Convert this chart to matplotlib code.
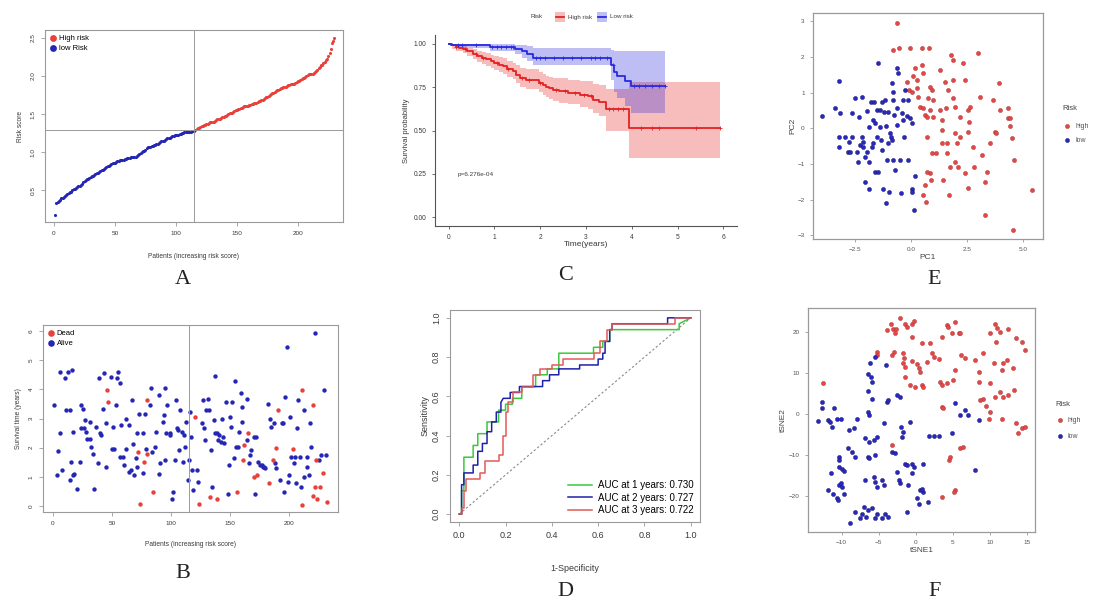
import numpy as np
import matplotlib
matplotlib.use("Agg")
import matplotlib.pyplot as plt
from matplotlib.patches import Rectangle

plt.rcParams['font.family'] = ['Liberation Sans', 'DejaVu Sans']

W, H = 1093, 610

# ---------------- data ----------------
# A: risk score by patient rank
risk_low = [0.17, 0.33, 0.34, 0.36, 0.37, 0.39, 0.40, 0.41, 0.42, 0.44,
            0.45, 0.46, 0.47, 0.48, 0.50, 0.51, 0.52, 0.53, 0.54, 0.55,
            0.56, 0.57, 0.58, 0.60, 0.62, 0.63, 0.64, 0.65, 0.66, 0.67,
            0.68, 0.69, 0.70, 0.71, 0.72, 0.73, 0.74, 0.75, 0.76, 0.77,
            0.78, 0.79, 0.80, 0.81, 0.82, 0.83, 0.84, 0.85, 0.85, 0.86,
            0.87, 0.88, 0.88, 0.89, 0.89, 0.90, 0.90, 0.91, 0.91, 0.92,
            0.92, 0.92, 0.93, 0.93, 0.93, 0.94, 0.94, 0.95, 0.96, 0.98,
            0.99, 1.00, 1.01, 1.02, 1.03, 1.05, 1.06, 1.07, 1.07, 1.08,
            1.08, 1.09, 1.09, 1.10, 1.11, 1.12, 1.13, 1.14, 1.15, 1.15,
            1.16, 1.17, 1.18, 1.18, 1.19, 1.20, 1.21, 1.21, 1.22, 1.22,
            1.23, 1.23, 1.24, 1.24, 1.25, 1.25, 1.26, 1.26, 1.26, 1.27,
            1.27, 1.27, 1.28, 1.28, 1.28]
risk_high = [1.29, 1.30, 1.31, 1.32, 1.33, 1.34, 1.34, 1.35, 1.36, 1.37,
             1.37, 1.38, 1.39, 1.39, 1.40, 1.40, 1.41, 1.42, 1.43, 1.44,
             1.44, 1.45, 1.46, 1.46, 1.47, 1.48, 1.49, 1.50, 1.51, 1.52,
             1.52, 1.53, 1.54, 1.55, 1.55, 1.56, 1.57, 1.58, 1.58, 1.59,
             1.60, 1.60, 1.61, 1.61, 1.62, 1.62, 1.63, 1.63, 1.64, 1.64,
             1.65, 1.66, 1.67, 1.67, 1.68, 1.69, 1.70, 1.71, 1.72, 1.73,
             1.74, 1.75, 1.76, 1.77, 1.78, 1.79, 1.80, 1.81, 1.82, 1.83,
             1.84, 1.84, 1.85, 1.86, 1.86, 1.87, 1.88, 1.88, 1.89, 1.89,
             1.90, 1.90, 1.91, 1.92, 1.93, 1.94, 1.95, 1.96, 1.97, 1.98,
             1.99, 2.00, 2.01, 2.02, 2.02, 2.03, 2.03, 2.04, 2.05, 2.06,
             2.08, 2.10, 2.12, 2.14, 2.15, 2.17, 2.19, 2.21, 2.23, 2.26,
             2.30, 2.36, 2.43, 2.46, 2.50]
risk_cut = 1.285
rank_cut = 115

# B: survival time by patient rank, status 1 = dead
b_rank = [1, 6, 6, 4, 3, 8, 10, 11, 13, 14, 14, 15, 16, 17, 17, 18, 20, 23, 24, 24,
          25, 27, 26, 28, 29, 31, 31, 32, 34, 35, 36, 38, 39, 40, 41, 42, 43, 45, 45, 46,
          47, 49, 50, 51, 52, 53, 54, 55, 57, 57, 59, 58, 60, 62, 62, 64, 64, 66, 67, 68,
          69, 70, 71, 71, 72, 73, 74, 76, 76, 77, 78, 79, 80, 80, 82, 83, 84, 85, 86, 87,
          90, 90, 91, 93, 94, 95, 95, 96, 97, 99, 99, 101, 102, 103, 104, 105, 106, 107, 108, 109,
          110, 111, 112, 113, 114, 115, 117, 118, 119, 116, 120, 122, 123, 124, 126, 127, 128, 129, 130, 131,
          132, 133, 134, 135, 136, 137, 137, 139, 139, 140, 141, 142, 143, 144, 145, 147, 148, 149, 150, 151,
          152, 153, 154, 155, 156, 157, 158, 159, 160, 160, 161, 162, 164, 164, 165, 166, 167, 168, 170, 170,
          171, 173, 172, 174, 175, 177, 178, 179, 180, 182, 183, 184, 185, 186, 187, 188, 189, 189, 191, 192,
          194, 195, 196, 197, 198, 199, 200, 201, 202, 203, 204, 205, 206, 207, 208, 209, 210, 211, 211, 213,
          213, 215, 215, 217, 218, 219, 220, 220, 222, 222, 223, 224, 225, 226, 227, 229, 230, 231, 232]
b_time = [3.45, 4.60, 2.50, 1.90, 1.06, 1.23, 4.37, 3.30, 4.60, 0.89, 3.28, 1.52, 4.65, 2.54, 1.06, 1.10, 0.60, 1.52, 2.66, 3.45,
          3.34, 2.94, 2.66, 2.54, 2.31, 2.88, 2.31, 2.03, 1.80, 0.60, 2.71, 1.46, 4.37, 2.49, 2.43, 3.34, 4.55, 2.83, 1.35, 3.97,
          3.55, 4.42, 1.97, 2.71, 1.97, 3.45, 4.37, 4.60, 4.20, 1.69, 1.69, 2.77, 1.40, 1.97, 2.98, 2.77, 1.17, 1.23, 3.63, 2.14,
          1.06, 1.66, 2.49, 1.35, 1.86, 3.17, 0.09, 1.12, 2.49, 1.52, 3.17, 1.97, 3.63, 1.80, 3.45, 4.03, 1.86, 0.49, 2.03, 2.54,
          1.10, 3.80, 1.46, 2.88, 3.11, 4.03, 1.57, 2.49, 3.45, 2.49, 2.43, 0.23, 0.49, 1.57, 3.63, 2.66, 2.60, 1.92, 3.30, 2.54,
          1.52, 2.43, 2.03, 2.88, 0.89, 1.57, 2.37, 1.23, 0.55, 3.23, 3.06, 1.23, 0.83, 0.09, 2.83, 3.63, 2.66, 2.26, 3.28, 3.68,
          3.28, 0.32, 1.92, 0.66, 2.94, 4.45, 2.49, 2.49, 0.24, 2.26, 2.43, 2.20, 3.00, 2.37, 2.17, 3.57, 0.43, 1.40, 3.06, 2.71,
          3.57, 1.66, 4.29, 2.03, 0.49, 2.03, 2.54, 3.86, 3.40, 2.88, 1.57, 2.09, 3.68, 2.26, 2.49, 1.48, 1.74, 1.92, 2.37, 1.00,
          0.43, 1.06, 2.37, 1.52, 1.42, 1.40, 1.35, 1.35, 1.29, 3.51, 0.78, 3.00, 2.71, 1.57, 2.83, 1.46, 2.00, 1.29, 3.30, 0.89,
          2.83, 2.86, 0.49, 3.72, 5.45, 0.83, 1.06, 3.06, 1.69, 1.97, 1.48, 1.69, 0.78, 2.66, 3.63, 1.69, 0.66, 0.03, 3.97, 1.00,
          3.30, 1.35, 1.69, 1.06, 2.86, 2.03, 3.45, 0.34, 0.66, 5.93, 1.57, 0.26, 1.57, 0.66, 1.74, 1.14, 3.97, 1.74, 0.15]
b_status = [0, 0, 0, 0, 0, 0, 0, 0, 0, 0, 0, 0, 0, 0, 0, 0, 0, 0, 0, 0,
            0, 0, 0, 0, 0, 0, 0, 0, 0, 0, 0, 0, 0, 0, 0, 0, 0, 0, 0, 1,
            1, 0, 0, 0, 0, 0, 0, 0, 0, 0, 0, 0, 0, 0, 0, 0, 0, 0, 0, 0,
            0, 0, 0, 0, 1, 0, 1, 0, 0, 1, 0, 0, 1, 1, 0, 0, 0, 1, 0, 0,
            0, 0, 0, 0, 0, 0, 0, 0, 0, 0, 0, 0, 0, 0, 0, 0, 0, 0, 0, 0,
            0, 0, 0, 0, 0, 0, 0, 0, 0, 0, 1, 0, 0, 1, 0, 0, 0, 0, 0, 0,
            0, 1, 0, 0, 0, 0, 0, 0, 1, 0, 0, 0, 0, 0, 0, 0, 0, 0, 0, 0,
            0, 0, 0, 0, 1, 0, 0, 0, 0, 0, 1, 1, 0, 0, 1, 0, 0, 0, 0, 1,
            0, 1, 0, 0, 0, 0, 0, 0, 0, 0, 1, 0, 0, 1, 0, 0, 1, 0, 1, 0,
            0, 0, 0, 0, 0, 0, 0, 0, 0, 1, 0, 0, 0, 0, 0, 0, 0, 1, 1, 0,
            0, 0, 0, 0, 0, 0, 1, 1, 1, 0, 1, 1, 0, 1, 0, 1, 0, 0, 1]

# C: Kaplan-Meier steps
km_high_time = [0, 0.08, 0.15, 0.22, 0.31, 0.40, 0.52, 0.62, 0.72, 0.82, 0.92, 1.00, 1.10, 1.18, 1.28, 1.40,
                1.48, 1.55, 1.69, 1.98, 2.05, 2.13, 2.20, 2.27, 2.42, 2.60, 2.86, 3.04, 3.15, 3.29, 3.44, 3.95]
km_high_surv = [1.0, 0.99, 0.98, 0.975, 0.967, 0.955, 0.938, 0.928, 0.918, 0.909, 0.899, 0.89, 0.88, 0.87, 0.856, 0.841,
                0.822, 0.803, 0.793, 0.774, 0.762, 0.75, 0.742, 0.735, 0.725, 0.716, 0.706, 0.696, 0.677, 0.667, 0.624, 0.513]
km_high_upper = [1.0, 1.0, 0.995, 0.99, 0.985, 0.978, 0.967, 0.96, 0.952, 0.945, 0.937, 0.93, 0.922, 0.915, 0.903, 0.891,
                 0.876, 0.86, 0.852, 0.835, 0.826, 0.815, 0.81, 0.805, 0.8, 0.793, 0.787, 0.783, 0.768, 0.76, 0.74, 0.78]
km_high_lower = [1.0, 0.97, 0.96, 0.955, 0.945, 0.93, 0.91, 0.897, 0.885, 0.873, 0.862, 0.85, 0.838, 0.826, 0.81, 0.795,
                 0.773, 0.75, 0.74, 0.72, 0.705, 0.692, 0.683, 0.672, 0.66, 0.65, 0.636, 0.625, 0.60, 0.585, 0.50, 0.34]
km_high_end = 5.92
km_high_cens = [0.15, 0.35, 0.6, 0.75, 1.05, 1.3, 1.6, 1.75, 2.0, 2.35, 2.55, 2.75, 2.95, 3.1,
                3.5, 3.6, 3.7, 3.8, 4.2, 4.45, 4.6, 5.4, 5.92]

km_low_time = [0, 0.05, 0.25, 0.9, 1.45, 1.6, 1.7, 1.85, 3.55, 3.62, 3.68, 3.85, 3.98]
km_low_surv = [1.0, 0.995, 0.99, 0.982, 0.97, 0.955, 0.938, 0.92, 0.88, 0.835, 0.812, 0.783, 0.754]
km_low_upper = [1.0, 1.0, 1.0, 1.0, 0.995, 0.99, 0.985, 0.975, 0.965, 0.96, 0.955, 0.955, 0.955]
km_low_lower = [1.0, 0.985, 0.975, 0.96, 0.94, 0.92, 0.9, 0.88, 0.79, 0.72, 0.69, 0.64, 0.60]
km_low_end = 4.72
km_low_cens = [0.2, 0.3, 0.6, 0.95, 1.05, 1.15, 1.25, 1.35, 1.4, 1.9, 2.0, 2.1, 2.3, 2.5, 2.7, 2.9,
               3.1, 3.2, 3.3, 3.45, 3.6, 4.05, 4.15, 4.3, 4.45, 4.6, 4.72]
p_text = "p=6.276e-04"

# D: time-dependent ROC
roc1_fpr = [0, 0.01, 0.01, 0.02, 0.02, 0.06, 0.06, 0.08, 0.08, 0.12, 0.12, 0.17, 0.17, 0.2, 0.2, 0.23, 0.23,
            0.27, 0.27, 0.33, 0.33, 0.38, 0.38, 0.43, 0.43, 0.58, 0.58, 0.62, 0.62, 0.65, 0.65, 0.95, 0.95, 1.0]
roc1_tpr = [0, 0, 0.12, 0.12, 0.29, 0.29, 0.35, 0.35, 0.41, 0.41, 0.47, 0.47, 0.53, 0.53, 0.56, 0.56, 0.59,
            0.59, 0.65, 0.65, 0.71, 0.71, 0.74, 0.74, 0.82, 0.82, 0.85, 0.85, 0.88, 0.88, 0.94, 0.94, 0.97, 1.0]
roc2_fpr = [0, 0.01, 0.01, 0.02, 0.02, 0.06, 0.06, 0.08, 0.08, 0.1, 0.1, 0.12, 0.12, 0.14, 0.14, 0.16, 0.16,
            0.18, 0.18, 0.19, 0.22, 0.22, 0.26, 0.26, 0.36, 0.36, 0.39, 0.39, 0.43, 0.43, 0.52, 0.52, 0.6, 0.6,
            0.62, 0.62, 0.63, 0.63, 0.65, 0.65, 0.66, 0.66, 0.9, 0.9, 1.0]
roc2_tpr = [0, 0, 0.15, 0.15, 0.21, 0.21, 0.25, 0.25, 0.32, 0.32, 0.36, 0.36, 0.42, 0.42, 0.47, 0.47, 0.52,
            0.52, 0.57, 0.59, 0.59, 0.62, 0.62, 0.65, 0.65, 0.68, 0.68, 0.71, 0.71, 0.74, 0.74, 0.76, 0.76, 0.79,
            0.79, 0.82, 0.82, 0.88, 0.88, 0.94, 0.94, 0.97, 0.97, 1.0, 1.0]
roc3_fpr = [0, 0.01, 0.01, 0.02, 0.02, 0.03, 0.03, 0.09, 0.09, 0.11, 0.11, 0.17, 0.17, 0.19, 0.19, 0.2, 0.2,
            0.21, 0.21, 0.23, 0.23, 0.27, 0.27, 0.32, 0.32, 0.35, 0.35, 0.4, 0.4, 0.45, 0.45, 0.58, 0.58, 0.61,
            0.61, 0.64, 0.64, 0.66, 0.66, 0.93, 0.93, 1.0]
roc3_tpr = [0, 0, 0.03, 0.03, 0.12, 0.12, 0.18, 0.18, 0.21, 0.21, 0.27, 0.27, 0.3, 0.3, 0.4, 0.4, 0.52,
            0.52, 0.57, 0.57, 0.62, 0.62, 0.65, 0.65, 0.71, 0.71, 0.74, 0.74, 0.76, 0.76, 0.79, 0.79, 0.82, 0.82,
            0.88, 0.88, 0.94, 0.94, 0.97, 0.97, 1.0, 1.0]
roc_labels = ["AUC at 1 years: 0.730", "AUC at 2 years: 0.727", "AUC at 3 years: 0.722"]

# E: PCA
pca_low_x = [-3.96, -3.22, -3.15, -3.37, -3.22, -3.20, -2.93, -2.78, -2.81, -2.63, -2.63, -2.71, -2.49, -2.41,
             -2.37, -2.31, -2.26, -2.19, -2.19, -2.12, -2.12, -2.04, -2.04, -1.97, -1.97, -1.89, -1.89, -1.85,
             -1.78, -1.75, -1.67, -1.67, -1.64, -1.60, -1.60, -1.52, -1.52, -1.48, -1.45, -1.38, -1.38, -1.30,
             -1.33, -1.27, -1.23, -1.20, -1.15, -1.11, -1.11, -1.08, -1.01, -1.01, -0.98, -0.93, -0.90, -0.86,
             -0.86, -0.81, -0.78, -0.78, -0.74, -0.71, -0.64, -0.64, -0.61, -0.59, -0.49, -0.46, -0.41, -0.37,
             -0.34, -0.31, -0.27, -0.19, -0.12, -0.04, 0.03, 0.03, 0.06, 0.13, 0.18, -0.12]
pca_low_y = [0.35, 1.32, 0.42, 0.58, -0.23, -0.51, -0.23, -0.37, -0.65, 0.42, -0.23, -0.65, 0.86, -0.65,
             -0.93, 0.33, -0.47, 0.89, -0.23, -0.37, -0.51, -0.79, -1.49, -0.65, 0.49, 0.05, -0.93, -1.71,
             0.75, -0.51, 0.23, -0.42, 0.75, 0.14, -1.21, -0.23, 0.51, 1.84, -1.21, 0.51, 0.05, 0.75,
             -0.33, -0.61, -1.70, 0.47, 0.79, 0.07, -2.08, -0.89, -0.42, 0.47, -1.79, -0.14, -0.23, 1.26,
             -0.33, -0.89, 1.03, 0.79, 0.37, -1.17, 0.56, 0.09, 1.68, 1.56, -0.89, -1.80, 0.42, 0.79,
             0.23, -0.23, 1.07, 0.35, -0.89, 0.28, 0.14, -1.71, -1.77, -2.29, -1.33, 0.79]
pca_high_x = [-0.64, -0.78, -0.52, -0.04, 0.47, 0.80, -0.19, -0.09, 0.03, 0.10, 0.18, 0.25, 0.47, 0.55,
              0.40, 0.55, 0.62, 0.70, 0.70, 0.77, 0.84, 0.84, 0.92, 0.99, 0.92, 0.84, 0.89, 0.70, 0.62,
              0.55, 0.65, 1.09, 1.29, 1.36, 1.36, 1.41, 1.51, 1.55, 1.66, 1.70, 1.80, 1.85, 1.88, 1.88,
              1.95, 1.95, 2.03, 2.10, 2.17, 2.32, 2.40, 2.40, 2.54, 2.57, 2.54, 2.54, 2.62, 2.77, 2.80,
              2.99, 3.06, 3.14, 3.28, 3.31, 3.40, 3.51, 3.65, 3.73, 3.80, 3.92, 3.95, 4.32, 4.32, 4.39,
              4.42, 4.47, 4.57, 4.54, 5.36, 1.36, 1.58, 1.95, 0.99, 0.33, 0.25, 1.29, 2.17, 1.73, 1.58]
pca_high_y = [2.94, 2.19, 2.24, 2.24, 2.24, 2.24, 1.31, 1.07, 1.03, 1.46, 1.68, 1.35, 1.77, 1.54,
              0.61, 0.56, 0.37, 0.33, -0.23, 0.84, 1.17, 0.51, 1.07, 0.33, -0.70, -1.26, -1.45, -1.21, -1.59,
              -1.87, -2.05, -0.70, 1.63, 0.23, -0.05, -1.45, 1.31, 0.56, 1.07, -1.87, 2.05, 1.91, 1.35, 0.84,
              -0.14, -0.93, -0.42, -1.07, 0.33, 1.82, 1.35, -1.26, 0.51, 0.19, -0.09, -1.68, 0.61, -0.51, -1.07,
              2.10, 0.89, -0.75, -2.43, -1.49, -1.21, -0.42, 0.79, -0.09, -0.14, 1.28, 0.51, 0.56, 0.28, 0.28,
              0.07, -0.26, -0.89, -2.85, -1.73, -0.42, -0.42, 0.61, 0.79, 0.89, 1.12, 0.51, -0.23, -1.07, -0.70]

# F: tSNE
tsne_high_x = [-12.5, -5.2, -5.3, -3.9, -3.3, -3.1, -2.8, -2.7, -2.1, -1.4, -1.2, -0.5, -0.3, -0.5, -3.0, -3.2,
               -1.7, -1.6, -1.7, -1.5, -0.5, 0.1, 0.4, 0.6, 0.9, 1.9, 1.5, 2.2, 2.4, 3.2, -1.4, -0.8, -0.1,
               0.8, 1.0, 3.3, 3.5, 4.2, 5.0, 5.3, 3.5, 4.2, 4.3, 4.9, 5.3, 5.8, 6.0, 6.1, 6.7, 8.0, 8.5,
               8.5, 9.1, 10.0, 10.7, 11.0, 11.4, 12.5, 10.8, 10.5, 11.8, 12.3, 11.6, 13.1, 13.6, 14.3, 14.7,
               10.0, 11.4, 11.8, 12.5, 13.2, 10.7, 9.1, 8.7, 9.5, 10.0, 9.9, 11.6, 13.6, 14.3, 14.7, 13.8,
               3.5, 3.7, 4.6, 4.5, 6.0, 6.4, 5.3, 5.1, 3.5, -3.2]
tsne_high_y = [7.7, 15.2, 14.4, 20.5, 22.0, 20.7, 19.7, 20.7, 23.4, 22.1, 21.2, 22.1, 22.8, 18.7, 15.2, 14.4,
               14.8, 13.6, 12.4, 11.6, 12.9, 12.2, 11.2, 10.3, 17.3, 17.3, 12.8, 14.8, 14.0, 13.4, 9.1, 7.1, 6.5,
               7.1, 6.5, 7.9, 7.1, 7.5, 8.3, 10.7, 18.9, 21.7, 21.2, 19.7, 22.6, 19.9, 19.7, 14.4, 13.6, 13.2, 10.3,
               7.9, 14.8, 19.7, 22.1, 20.9, 20.1, 20.7, 17.7, 12.4, 12.4, 13.2, 10.7, 11.2, 18.5, 17.7, 15.6,
               7.5, 5.5, 4.2, 4.6, 5.9, 4.2, 3.8, 3.4, 2.0, 0.6, -1.2, -1.1, -2.3, -3.5, -3.1, -4.7,
               1.8, 1.4, -10.4, -11.2, -8.4, -8.0, -18.6, -19.0, -20.2, -7.6]
tsne_low_x = [-12.7, -12.6, -13.2, -11.8, -11.6, -11.3, -11.0, -10.6, -10.1, -11.4, -11.8, -11.2, -10.6, -10.5,
              -10.4, -9.9, -10.1, -9.7, -10.4, -10.3, -10.4, -9.9, -9.7, -9.1, -8.6, -8.2, -9.0, -8.4, -7.9,
              -8.9, -8.2, -7.5, -7.3, -7.0, -6.7, -6.4, -5.9, -5.5, -5.3, -4.6, -4.1, -3.7, -6.8, -5.7, -5.5,
              -5.3, -4.6, -4.3, -6.5, -6.3, -5.5, -5.7, -6.9, -6.3, -5.3, -6.5, -6.3, -5.9, -6.5, -6.0, -5.9,
              -6.4, -6.2, -5.5, -4.3, -3.9, -3.7, -4.0, -2.6, -2.1, -1.9, -1.7, -2.0, -3.2, -2.8, -2.6, -2.2,
              -2.1, -1.4, -1.2, -0.5, -0.2, -0.5, -1.0, -1.2, 0.1, 0.4, 0.6, 1.0, 0.8, 1.0, -0.8, 1.7, 1.8,
              2.5, 3.2, 4.9, 5.3, 6.0, 6.7, 7.0, 8.5, 8.0]
tsne_low_y = [3.0, 1.4, -1.6, -1.5, -1.9, -3.1, 1.4, -1.1, -1.1, -14.5, -18.6, -19.4, -20.6, -21.0,
              -17.3, -17.8, -16.9, -19.4, -10.4, -11.2, -13.0, -13.3, -13.8, -8.4, -9.2, -10.4, -3.9, -3.5, -1.1,
              -26.7, -23.9, -25.5, -24.3, -22.6, -25.1, -23.5, -23.0, -25.5, -24.3, -25.5, -24.3, -25.1, -16.1, -15.3, -16.5,
              -17.8, -16.1, -17.3, -10.4, -10.8, -10.0, -6.4, -5.9, -6.8, -5.5, 0.6, -0.2, 3.8, 5.7, 9.1, 7.9,
              9.9, 12.5, 14.0, -2.1, 3.0, 3.4, 12.0, 4.6, 4.2, -5.5, -4.3, -3.1, -9.2, -9.6, -14.1, -16.1,
              -16.9, -12.1, -12.5, -12.1, -12.9, -14.5, -17.3, -23.9, -20.6, -22.0, -18.6, -19.0, -18.2, -12.1, -1.9, -21.4, -5.4,
              -5.4, -5.4, -4.7, 2.6, -0.2, 1.0, -0.2, -1.5, -13.7]

RED = '#E8403A'
BLUE = '#2626B4'
GREY = '#9A9A9A'
TXT = '#3A3A3A'


def rect(l, t, r, b):
    return [l / W, 1 - b / H, (r - l) / W, (b - t) / H]


def r_style(ax, fs):
    for s in ax.spines.values():
        s.set_color(GREY)
        s.set_linewidth(0.8)
    ax.tick_params(colors=GREY, labelcolor=TXT, labelsize=fs, length=3, width=0.6)
    for lab in ax.get_yticklabels():
        lab.set_rotation(90)
        lab.set_va('center')


fig = plt.figure(figsize=(W / 100, H / 100), dpi=100)

# ---------------- A ----------------
axA = fig.add_axes(rect(45, 30, 343, 222))
n_low = len(risk_low)
xs_low = np.arange(1, n_low + 1)
xs_high = np.arange(n_low + 1, n_low + len(risk_high) + 1)
axA.scatter(xs_high, risk_high, s=5, color=RED, lw=0, label='High risk')
axA.scatter(xs_low, risk_low, s=5, color=BLUE, lw=0, label='low Risk')
axA.axvline(rank_cut, color=GREY, lw=0.7)
axA.axhline(risk_cut, color=GREY, lw=0.7)
axA.set_xlim(-7.4, 237)
axA.set_ylim(0.08, 2.605)
axA.set_xticks([0, 50, 100, 150, 200])
axA.set_yticks([0.5, 1.0, 1.5, 2.0, 2.5])
axA.set_xlabel('Patients (increasing risk score)', fontsize=4.8, color=TXT, labelpad=12)
axA.set_ylabel('Risk score', fontsize=4.8, color=TXT, labelpad=5)
r_style(axA, 4.6)
axA.legend(loc='upper left', frameon=False, fontsize=5.5, handletextpad=0.2,
           borderaxespad=0.2, labelspacing=0.3, markerscale=2.2, handlelength=1)

# ---------------- B ----------------
axB = fig.add_axes(rect(43, 325, 338, 512))
b_rank_a = np.array(b_rank)
b_time_a = np.array(b_time)
b_status_a = np.array(b_status)
dead = b_status_a == 1
axB.scatter(b_rank_a[~dead], b_time_a[~dead], s=10, color=BLUE, lw=0, label='Alive', zorder=2)
axB.scatter(b_rank_a[dead], b_time_a[dead], s=10, color=RED, lw=0, label='Dead', zorder=2)
axB.axvline(rank_cut, color=GREY, lw=0.7)
axB.set_xlim(-8.5, 241.5)
axB.set_ylim(-0.2, 6.2)
axB.set_xticks([0, 50, 100, 150, 200])
axB.set_yticks([0, 1, 2, 3, 4, 5, 6])
axB.set_xlabel('Patients (increasing risk score)', fontsize=4.8, color=TXT, labelpad=11)
axB.set_ylabel('Survival time (years)', fontsize=4.8, color=TXT, labelpad=5)
r_style(axB, 4.6)
hB, lB = axB.get_legend_handles_labels()
axB.legend(hB[::-1], lB[::-1], loc='upper left', frameon=False, fontsize=5.5, handletextpad=0.2,
           borderaxespad=0.2, labelspacing=0.3, markerscale=1.5, handlelength=1)

# ---------------- C ----------------
axC = fig.add_axes(rect(435, 35, 737, 226))
KM_RED = '#E52222'
KM_BLUE = '#2A2AE0'
for t, s, up, lo, end, cens, col in [
        (km_high_time, km_high_surv, km_high_upper, km_high_lower, km_high_end, km_high_cens, KM_RED),
        (km_low_time, km_low_surv, km_low_upper, km_low_lower, km_low_end, km_low_cens, KM_BLUE)]:
    tt = np.append(t, end)
    ss = np.append(s, s[-1])
    axC.fill_between(tt, np.append(lo, lo[-1]), np.append(up, up[-1]), step='post',
                     color=col, alpha=0.3, lw=0)
    axC.step(tt, ss, where='post', color=col, lw=1.3)
    idx = np.searchsorted(tt, cens, side='right') - 1
    axC.plot(cens, ss[idx], '+', color=col, ms=3, mew=0.6)
axC.set_xlim(-0.3, 6.3)
axC.set_ylim(-0.05, 1.05)
axC.set_xticks(range(7))
axC.set_yticks([0, 0.25, 0.5, 0.75, 1.0])
axC.set_yticklabels(['0.00', '0.25', '0.50', '0.75', '1.00'])
axC.spines['top'].set_visible(False)
axC.spines['right'].set_visible(False)
for s in ['left', 'bottom']:
    axC.spines[s].set_color('#555555')
    axC.spines[s].set_linewidth(0.8)
axC.tick_params(colors='#555555', labelcolor=TXT, labelsize=4.8, length=2.5, width=0.6)
axC.set_xlabel('Time(years)', fontsize=6, color=TXT, labelpad=0)
axC.set_ylabel('Survival probability', fontsize=5.5, color=TXT, labelpad=3)
axC.text(0.2, 0.24, p_text, fontsize=4.6, color=TXT)

# ---------------- D ----------------
axD = fig.add_axes(rect(450, 310, 700, 522))
axD.plot([0, 1], [0, 1], ls=(0, (2, 2)), color='#888888', lw=0.8)
axD.plot(roc1_fpr, roc1_tpr, color='#3CC83C', lw=1.1, label=roc_labels[0])
axD.plot(roc2_fpr, roc2_tpr, color='#2020A8', lw=1.1, label=roc_labels[1])
axD.plot(roc3_fpr, roc3_tpr, color='#E25A5A', lw=1.1, label=roc_labels[2])
axD.set_xlim(-0.04, 1.04)
axD.set_ylim(-0.04, 1.04)
axD.set_xticks(np.arange(0, 1.01, 0.2))
axD.set_yticks(np.arange(0, 1.01, 0.2))
axD.set_xlabel('1-Specificity', fontsize=6.5, color=TXT, labelpad=17)
axD.set_ylabel('Sensitivity', fontsize=6.5, color=TXT, labelpad=2)
r_style(axD, 6.5)
axD.legend(loc='lower right', frameon=False, fontsize=7, handlelength=2.4,
           borderaxespad=0.3, labelspacing=0.25, handletextpad=0.6)

# ---------------- E ----------------
def gg_box(ax):
    for s in ax.spines.values():
        s.set_color(GREY)
        s.set_linewidth(0.9)
    ax.tick_params(colors=GREY, labelcolor='#555555', labelsize=4.6, length=2.5, width=0.6)


axE = fig.add_axes(rect(813, 13, 1043, 239))
axE.scatter(pca_high_x, pca_high_y, s=9, color='#E24848', edgecolor='#B03030', lw=0.3)
axE.scatter(pca_low_x, pca_low_y, s=9, color='#2828C0', edgecolor='#181870', lw=0.3)
axE.set_xlim(-4.36, 5.87)
axE.set_ylim(-3.1, 3.23)
axE.set_xticks([-2.5, 0.0, 2.5, 5.0])
axE.set_yticks([-3, -2, -1, 0, 1, 2, 3])
axE.set_xlabel('PC1', fontsize=6, color='#444444', labelpad=1)
axE.set_ylabel('PC2', fontsize=6, color='#444444', labelpad=1)
gg_box(axE)

# ---------------- F ----------------
axF = fig.add_axes(rect(808, 308, 1035, 532))
axF.scatter(tsne_high_x, tsne_high_y, s=9, color='#E24848', edgecolor='#B03030', lw=0.3)
axF.scatter(tsne_low_x, tsne_low_y, s=9, color='#2828C0', edgecolor='#181870', lw=0.3)
axF.set_xlim(-14.55, 16.1)
axF.set_ylim(-28.8, 25.9)
axF.set_xticks([-10, -5, 0, 5, 10, 15])
axF.set_yticks([-20, -10, 0, 10, 20])
axF.set_xlabel('tSNE1', fontsize=6, color='#444444', labelpad=1)
axF.set_ylabel('tSNE2', fontsize=6, color='#444444', labelpad=1)
gg_box(axF)

# ---------------- overlay: legends + panel letters ----------------
ov = fig.add_axes([0, 0, 1, 1], zorder=-1)
ov.set_xlim(0, W)
ov.set_ylim(H, 0)
ov.axis('off')

# C legend
ov.text(537, 17, 'Risk', fontsize=4.5, color=TXT, va='center', ha='center')
for x0, col, lab in [(555, KM_RED, 'High risk'), (597, KM_BLUE, 'Low risk')]:
    ov.add_patch(Rectangle((x0, 12), 10, 10, color=col, alpha=0.3, lw=0))
    ov.plot([x0 + 1, x0 + 9], [17, 17], color=col, lw=1.3)
    ov.text(x0 + 13, 17, lab, fontsize=4.5, color=TXT, va='center')

# E/F legends
for ty, hy, ly, tx in [(109, 126, 140, 1062), (404, 420, 436, 1055)]:
    ov.text(tx, ty, 'Risk', fontsize=5.5, color='#444444', va='center')
    ov.scatter([tx + 5], [hy], s=9, color='#E24848', edgecolor='#B03030', lw=0.3)
    ov.text(tx + 13, hy, 'high', fontsize=5, color='#555555', va='center')
    ov.scatter([tx + 5], [ly], s=9, color='#2828C0', edgecolor='#181870', lw=0.3)
    ov.text(tx + 13, ly, 'low', fontsize=5, color='#555555', va='center')

for lab, x, y in [('A', 183, 280), ('B', 183, 574), ('C', 566, 275),
                  ('D', 565, 592), ('E', 934, 279), ('F', 935, 592)]:
    ov.text(x, y, lab, fontsize=16, family='Liberation Serif', color='#222222',
            ha='center', va='center')

fig.savefig('out.png', dpi=100)
